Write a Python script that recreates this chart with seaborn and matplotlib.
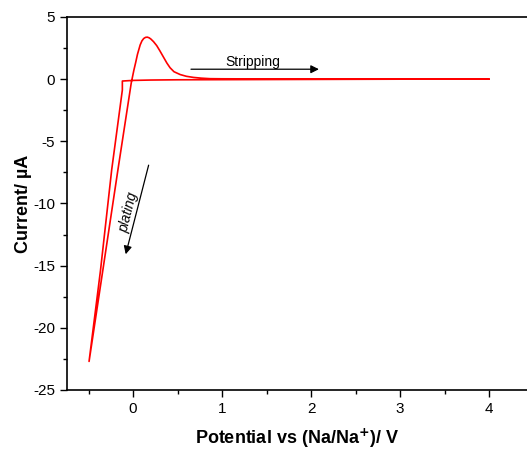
import matplotlib
matplotlib.use("Agg")
import matplotlib.pyplot as plt
import seaborn as sns
import pandas as pd
import numpy as np
from matplotlib.ticker import MultipleLocator

sns.set_theme(style="ticks")
plt.rcParams['font.family'] = ['Liberation Sans', 'DejaVu Sans']
plt.rcParams['text.color'] = 'black'
plt.rcParams['axes.labelcolor'] = 'black'

# Cathodic sweep (4.0 V -> -0.5 V)
cath_E = [4.0, 3.0, 2.0, 1.0, 0.5, 0.2, 0.0, -0.12, -0.12, -0.24, -0.366, -0.494]
cath_I = [0.0, 0.0, -0.02, -0.04, -0.05, -0.07, -0.1, -0.15, -0.87, -7.3, -15.4, -22.7]

# Anodic sweep (-0.5 V -> 4.0 V)
anod_E = [-0.494, -0.34, -0.17, -0.02, 0.01, 0.03, 0.05, 0.08, 0.10, 0.12, 0.14, 0.16, 0.18,
          0.20, 0.23, 0.266, 0.30, 0.34, 0.38, 0.416, 0.46, 0.53, 0.60, 0.68, 0.77, 0.865,
          1.0, 1.5, 2.0, 3.0, 4.0]
anod_I = [-22.7, -15.4, -7.3, -0.3, 0.74, 1.35, 2.0, 2.75, 3.08, 3.27, 3.36, 3.38, 3.33,
          3.23, 3.02, 2.7, 2.3, 1.8, 1.3, 0.92, 0.6, 0.37, 0.23, 0.14, 0.08, 0.04,
          0.03, 0.02, 0.02, 0.02, 0.02]

x_ticks = [0, 1, 2, 3, 4]
y_ticks = [-25, -20, -15, -10, -5, 0, 5]

E = cath_E + anod_E
I = cath_I + anod_I
df = pd.DataFrame({"E": E, "I": I})

fig = plt.figure(figsize=(5.27, 4.5), dpi=100)
ax = fig.add_axes([67/527, 1 - 390/450, 460/527, 373/450])

sns.lineplot(data=df, x="E", y="I", sort=False, estimator=None, color="red",
             linewidth=1.2, ax=ax)

ax.set_xlim(-0.742, 4.427)
ax.set_ylim(-25, 5)
ax.set_xticks(x_ticks)
ax.set_xticklabels([str(t) for t in x_ticks])
ax.set_yticks(y_ticks)
ax.set_yticklabels([str(t) for t in y_ticks])
ax.xaxis.set_minor_locator(MultipleLocator(0.5))
ax.yaxis.set_minor_locator(MultipleLocator(2.5))
ax.tick_params(axis="both", which="major", direction="out", length=5, width=1,
               labelsize=11, color="black", labelcolor="black")
ax.tick_params(axis="both", which="minor", direction="out", length=3, width=1, color="black")
for s in ["left", "bottom", "top"]:
    ax.spines[s].set_color("black")
    ax.spines[s].set_linewidth(1.2)
ax.spines["right"].set_visible(False)

ax.set_xlabel("Potential vs (Na/Na$^{\\mathbf{+}}$)/ V", fontsize=13, fontweight="bold",
              labelpad=8, color="black")
ax.set_ylabel("Current/ µA", fontsize=13, fontweight="bold", labelpad=1, color="black")

ax.annotate("", xy=(2.12, 0.8), xytext=(0.62, 0.8),
            arrowprops=dict(arrowstyle="-|>", color="black", lw=0.9, mutation_scale=12))
ax.text(1.35, 1.4, "Stripping", fontsize=10, ha="center", va="center", color="black")

ax.annotate("", xy=(-0.09, -14.3), xytext=(0.183, -6.7),
            arrowprops=dict(arrowstyle="-|>", color="black", lw=0.9, mutation_scale=12))
ax.text(-0.05, -10.75, "plating", fontsize=10, rotation=76, ha="center", va="center",
        color="black", style="italic")

fig.savefig("out.png", dpi=100)
